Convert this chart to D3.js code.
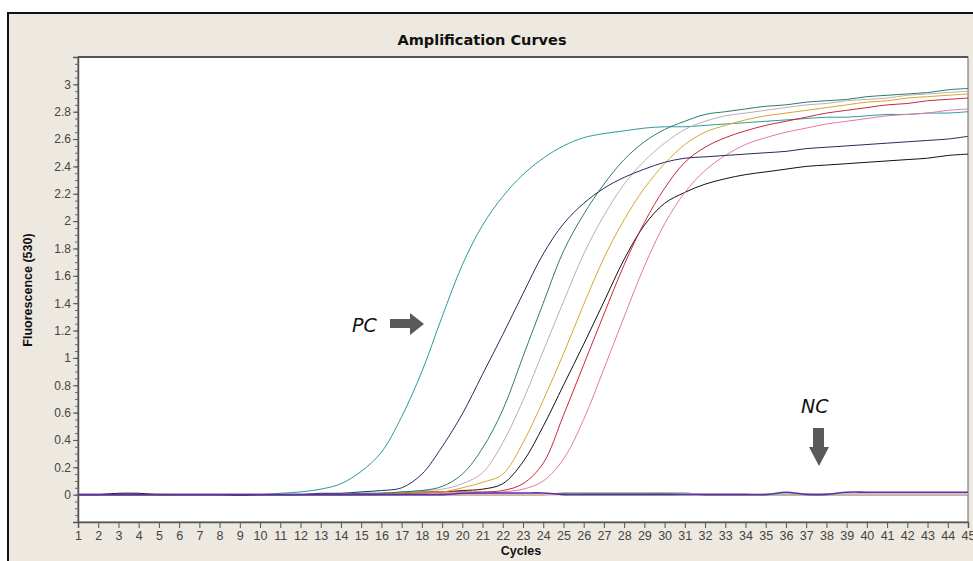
<!DOCTYPE html>
<html>
<head>
<meta charset="utf-8">
<script src="https://cdn.jsdelivr.net/npm/d3@7"></script>
<style>
body { margin: 0; background: #fff; }
</style>
</head>
<body>
<div class="CHART"></div>
<script>

// x categories (cycle numbers) and y tick labels
var cycles = [1,2,3,4,5,6,7,8,9,10,11,12,13,14,15,16,17,18,19,20,21,22,23,24,25,26,27,28,29,30,
              31,32,33,34,35,36,37,38,39,40,41,42,43,44,45];
var yLabels = [0, 0.2, 0.4, 0.6, 0.8, 1, 1.2, 1.4, 1.6, 1.8, 2, 2.2, 2.4, 2.6, 2.8, 3];

// fluorescence per cycle
var pc     = [0,0,0,0,0,0,0,0,0,0, 0.01,0.02,0.04,0.08,0.17,0.31,0.57,0.90,1.30,1.68,
              1.97,2.18,2.34,2.46,2.55,2.61,2.64,2.66,2.68,2.69, 2.69,2.70,2.71,2.72,2.73,2.74,2.75,2.76,2.76,2.77,
              2.78,2.78,2.79,2.79,2.80];
var navy   = [0,0,0,0,0,0,0,0,-0.005,0, 0,0,0.01,0.01,0.02,0.03,0.05,0.15,0.35,0.59,
              0.88,1.17,1.47,1.76,1.98,2.13,2.24,2.32,2.38,2.43, 2.46,2.47,2.48,2.49,2.50,2.51,2.53,2.54,2.55,2.56,
              2.57,2.58,2.59,2.60,2.62];
var green  = [0,0,0,0,0,0,0,0,0,0, 0,0,0,0,0.01,0.01,0.02,0.03,0.06,0.15,
              0.34,0.62,1.01,1.40,1.78,2.05,2.27,2.45,2.58,2.67, 2.73,2.78,2.80,2.82,2.84,2.85,2.87,2.88,2.89,2.91,
              2.92,2.93,2.94,2.96,2.97];
var grey   = [0,0,0,0,0,0,0,0,0,0, 0,0,0,0,0.01,0.01,0.02,0.03,0.04,0.08,
              0.16,0.38,0.69,1.05,1.41,1.76,2.04,2.27,2.44,2.57, 2.67,2.73,2.77,2.79,2.81,2.83,2.85,2.86,2.88,2.89,
              2.90,2.92,2.93,2.94,2.95];
var yellow = [0,0,0,0,0.005,0,0,0,0,0, 0,0,0,0,0,0.01,0.01,0.02,0.02,0.05,
              0.09,0.15,0.38,0.69,1.03,1.39,1.73,2.01,2.24,2.42, 2.56,2.65,2.70,2.74,2.77,2.79,2.81,2.83,2.85,2.87,
              2.88,2.90,2.91,2.92,2.93];
var black  = [0,0,0.01,0.01,0,0,0,0,0,0, 0,0,0,0,0,0.01,0.01,0.02,0.02,0.03,
              0.04,0.08,0.24,0.50,0.80,1.10,1.41,1.72,1.97,2.13, 2.21,2.27,2.31,2.34,2.36,2.38,2.40,2.41,2.42,2.43,
              2.44,2.45,2.46,2.48,2.49];
var red    = [0,0,0,0,0,0,0,0,0,0, 0,0,0,0,0,0,0.01,0.01,0.02,0.02,
              0.02,0.03,0.08,0.23,0.58,0.95,1.32,1.68,1.99,2.24, 2.43,2.54,2.61,2.66,2.70,2.73,2.76,2.79,2.81,2.83,
              2.85,2.86,2.88,2.89,2.90];
var pink   = [0,0,0,0,0,0,0,0,0,0, 0,0,0,0,0,0,0,0.01,0.01,0.01,
              0.01,0.02,0.04,0.10,0.26,0.55,0.92,1.30,1.67,1.98, 2.21,2.37,2.48,2.56,2.61,2.65,2.68,2.71,2.73,2.75,
              2.77,2.78,2.79,2.81,2.82];
// negative controls stay flat
var ncGreen  = [0,0,0,0,0,0,0,0,0,0, 0,0,0,0,0,0,0,0,0,0,
                0,0,0,0,0.01,0.01,0.01,0.01,0.01,0.01, 0.01,0,0,0,0,0,0,0,0,0, 0,0,0,0,0];
var ncPink   = [0,0,0,0,0,0,0,0,0,0, 0,0,0,0,0,0,0,0,0,0,
                0,0,0,0,0,0,0,0,0,0, 0.004,0.006,0.005,0.005,0.005,0.005,0.005,0.005,0.004,0.004, 0.004,0.004,0.004,0.004,0.004];
var ncPurple = [0,0,0,0,0,0,0,0,0,0, 0,0,0,0,0,0,0,0,0,0.01,
                0.012,0.012,0.012,0.012,0,0,0,0,0,0, 0,0,0,0,0,0.018,0.002,0.002,0.018,0.018, 0.018,0.018,0.018,0.018,0.018];

var width = 973, height = 561;
var plotL = 78, plotT = 57, plotR = 968, plotB = 522;

var canvas = d3.select(".CHART").append("svg")
    .attr("width", width)
    .attr("height", height)
    .style("display", "block");

// beige frame
canvas.append("rect")
    .attr("x", 8).attr("y", 13)
    .attr("width", 1000).attr("height", 600)
    .attr("fill", "#ede8e0")
    .attr("stroke", "#111")
    .attr("stroke-width", 2);

// plot box
canvas.append("rect")
    .attr("x", plotL).attr("y", plotT)
    .attr("width", plotR - plotL).attr("height", plotB - plotT)
    .attr("fill", "#fff")
    .attr("stroke", "#666")
    .attr("stroke-width", 1);
canvas.append("line")
    .attr("x1", plotL).attr("x2", plotR).attr("y1", plotT).attr("y2", plotT)
    .attr("stroke", "#555").attr("stroke-width", 2);

var x = d3.scaleLinear().domain([1, 45]).range([plotL, plotR]);
var y = d3.scaleLinear().domain([-0.2, 3.2]).range([plotB, plotT]);

// y axis: minor ticks, then labelled ticks
canvas.append("g")
    .attr("transform", "translate(" + plotL + ",0)")
    .call(d3.axisLeft(y).tickValues(d3.range(-0.2, 3.2001, 0.05)).tickSize(3).tickFormat(""))
    .call(function(g){ g.select(".domain").remove(); g.selectAll("line").attr("stroke", "#666"); });

var yAxis = canvas.append("g")
    .attr("transform", "translate(" + plotL + ",0)")
    .call(d3.axisLeft(y).tickValues(yLabels).tickSize(5).tickPadding(2).tickFormat(function(d){ return String(+d.toFixed(1)); }));
yAxis.select(".domain").attr("stroke", "#555").attr("stroke-width", 1.5);
yAxis.selectAll("line").attr("stroke", "#555");
yAxis.selectAll("text")
    .attr("font-family", "Liberation Sans, Arial, sans-serif")
    .attr("font-size", "12px")
    .attr("fill", "#444");

var xAxis = canvas.append("g")
    .attr("transform", "translate(0," + plotB + ")")
    .call(d3.axisBottom(x).tickValues(cycles).tickSize(6).tickPadding(3));
xAxis.select(".domain").attr("stroke", "#555").attr("stroke-width", 1.5);
xAxis.selectAll("line").attr("stroke", "#555");
xAxis.selectAll("text")
    .attr("font-family", "Liberation Sans, Arial, sans-serif")
    .attr("font-size", "12.5px")
    .attr("fill", "#444");

// titles
canvas.append("text")
    .attr("x", 482).attr("y", 45)
    .attr("text-anchor", "middle")
    .attr("font-family", "DejaVu Sans, Verdana, sans-serif")
    .attr("font-size", "14.5px")
    .attr("font-weight", 700)
    .attr("fill", "#111")
    .text("Amplification Curves");

canvas.append("text")
    .attr("x", 521).attr("y", 555)
    .attr("text-anchor", "middle")
    .attr("font-family", "Liberation Sans, Arial, sans-serif")
    .attr("font-size", "12.5px")
    .attr("font-weight", 700)
    .attr("fill", "#111")
    .text("Cycles");

canvas.append("text")
    .attr("transform", "translate(32,290) rotate(-90)")
    .attr("text-anchor", "middle")
    .attr("font-family", "Liberation Sans, Arial, sans-serif")
    .attr("font-size", "12.5px")
    .attr("font-weight", 700)
    .attr("fill", "#111")
    .text("Fluorescence (530)");

// curves
canvas.append("clipPath").attr("id", "plotclip")
    .append("rect")
    .attr("x", plotL).attr("y", plotT)
    .attr("width", plotR - plotL).attr("height", plotB - plotT);

var curves = [
    {values: ncGreen,  color: "#3f8f55", w: 1.6},
    {values: ncPink,   color: "#e6b0b0", w: 1.6},
    {values: pc,       color: "#2e9a9c", w: 1},
    {values: black,    color: "#111111", w: 1},
    {values: red,      color: "#c8283c", w: 1},
    {values: pink,     color: "#e07aa8", w: 1},
    {values: yellow,   color: "#d9a62a", w: 1},
    {values: grey,     color: "#bcaeb0", w: 1},
    {values: green,    color: "#2f7a6e", w: 1},
    {values: navy,     color: "#2a2862", w: 1},
    {values: ncPurple, color: "#5b30a8", w: 1.6}
];

var line = d3.line()
    .x(function(d, i){ return x(cycles[i]); })
    .y(function(d){ return y(d); })
    .curve(d3.curveCatmullRom.alpha(0.5));

canvas.append("g")
    .attr("clip-path", "url(#plotclip)")
    .selectAll("path")
    .data(curves)
    .enter().append("path")
    .attr("d", function(d){ return line(d.values); })
    .attr("fill", "none")
    .attr("stroke", function(d){ return d.color; })
    .attr("stroke-width", function(d){ return d.w; });

// PC / NC markers
canvas.append("text")
    .attr("x", 352).attr("y", 332)
    .attr("font-family", "DejaVu Sans, sans-serif")
    .attr("font-style", "italic")
    .attr("font-size", "19px")
    .attr("fill", "#111")
    .text("PC");

canvas.append("path")
    .attr("d", "M390,319 L410,319 L410,313 L424,324 L410,335 L410,328 L390,328 Z")
    .attr("fill", "#5a5a5a");

canvas.append("text")
    .attr("x", 801).attr("y", 413)
    .attr("font-family", "DejaVu Sans, sans-serif")
    .attr("font-style", "italic")
    .attr("font-size", "19px")
    .attr("fill", "#111")
    .text("NC");

canvas.append("path")
    .attr("d", "M813,428 L824,428 L824,447 L829,447 L819,466 L809,447 L813,447 Z")
    .attr("fill", "#5a5a5a");

</script>
</body>
</html>
